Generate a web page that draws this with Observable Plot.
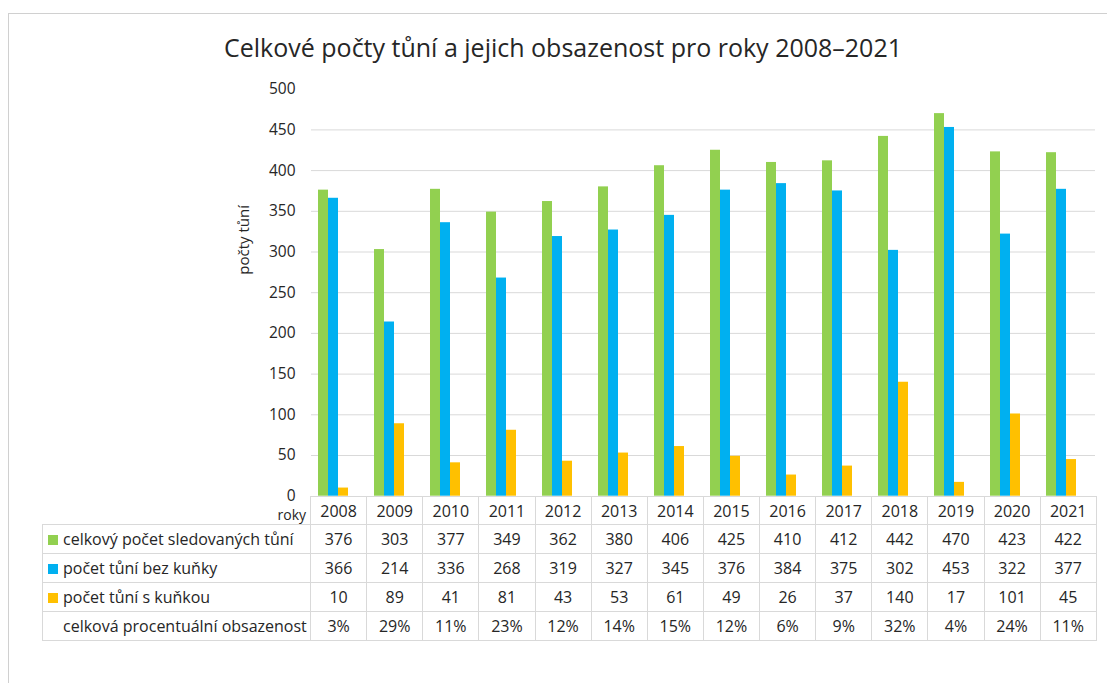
<!DOCTYPE html>
<html><head><meta charset="utf-8">
<script src="https://cdn.jsdelivr.net/npm/d3@7"></script>
<script src="https://cdn.jsdelivr.net/npm/@observablehq/plot@0.6"></script>
<style>
body{margin:0;background:#fff;font-family:"Open Sans",sans-serif;color:#262626}
#wrap{position:relative;width:1107px;height:683px;overflow:hidden;background:#fff}
#frame{position:absolute;left:8px;top:13px;width:1200px;height:800px;border-left:1px solid #d0d0d0;border-top:1px solid #d0d0d0}
#title{position:absolute;top:30px;left:563px;transform:translateX(-50%);white-space:nowrap;font-size:25px;line-height:34px}
#chart{position:absolute;left:0;top:0}
#tbl{position:absolute;left:42px;top:496px;border-collapse:collapse;table-layout:fixed;font-size:16px}
#tbl td{border:1px solid #d9d9d9;padding:0;text-align:center;height:28px;line-height:20px}
#tbl td.lab{text-align:left;padding-left:5px;white-space:nowrap}
#tbl td.lab.np{padding-left:20px}
#tbl td.roky{border:none;text-align:right;vertical-align:bottom;font-size:14px;padding-right:4px;line-height:18px}
#tbl tr.head td{height:27px}
.sw{display:inline-block;width:10px;height:10px;margin-right:5px;vertical-align:0px}
</style>
</head><body>
<div id="wrap">
<div id="frame"></div>
<div id="title">Celkové počty tůní a jejich obsazenost pro roky 2008–2021</div>
<div id="chart"></div>
<table id="tbl"></table>
</div>
<script>
const years = [2008,2009,2010,2011,2012,2013,2014,2015,2016,2017,2018,2019,2020,2021];
const seriesNames = ["celkový počet sledovaných tůní","počet tůní bez kuňky","počet tůní s kuňkou"];
const totalPonds = [376,303,377,349,362,380,406,425,410,412,442,470,423,422];
const pondsWithout = [366,214,336,268,319,327,345,376,384,375,302,453,322,377];
const pondsWith = [10,89,41,81,43,53,61,49,26,37,140,17,101,45];
const pctLabel = "celková procentuální obsazenost";
const pctValues = ["3%","29%","11%","23%","12%","14%","15%","12%","6%","9%","32%","4%","24%","11%"];
const colors = ["#92d050","#00b0f0","#ffc000"];
const yTicks = [0,50,100,150,200,250,300,350,400,450,500];
const yLabel = "počty tůní";
const xLabel = "roky";

const seriesValues = [totalPonds, pondsWithout, pondsWith];
const data = years.flatMap((yr, i) => seriesNames.map((s, k) => ({year: yr, series: s, value: seriesValues[k][i]})));

const chart = Plot.plot({
  width: 1107,
  height: 530,
  marginTop: 88.7,
  marginBottom: 34.3,
  marginLeft: 310,
  marginRight: 11,
  style: {fontFamily: "Open Sans", fontSize: "15px", color: "#262626", background: "transparent"},
  fx: {domain: years, padding: 0, axis: null, label: null},
  x: {domain: seriesNames, paddingInner: 0, paddingOuter: 1.075, align: 0.256, axis: null},
  y: {domain: [0, 500], label: null},
  color: {domain: seriesNames, range: colors},
  marks: [
    Plot.gridY(yTicks.filter(t => t > 0 && t < 500), {stroke: "#d9d9d9", strokeOpacity: 1, strokeWidth: 1}),
    Plot.barY(data, {fx: "year", x: "series", y: "value", fill: "series"}),
    Plot.axisY({ticks: yTicks, tickSize: 0, tickPadding: 16, fontSize: 15.5, label: null}),
    Plot.text([yLabel], {facet: "super", frameAnchor: "left", rotate: -90, dx: -67, dy: -18, fontSize: 15, fill: "#262626"})
  ]
});
document.getElementById("chart").appendChild(chart);

// data table
const tbl = document.getElementById("tbl");
const colg = document.createElement("colgroup");
const c0 = document.createElement("col"); c0.style.width = "268px"; colg.appendChild(c0);
years.forEach(() => { const c = document.createElement("col"); c.style.width = "56.14px"; colg.appendChild(c); });
tbl.appendChild(colg);
const head = document.createElement("tr"); head.className = "head";
const hc = document.createElement("td"); hc.className = "roky"; hc.textContent = xLabel; head.appendChild(hc);
years.forEach(y => { const td = document.createElement("td"); td.textContent = y; head.appendChild(td); });
tbl.appendChild(head);
seriesNames.forEach((s, k) => {
  const tr = document.createElement("tr");
  const lab = document.createElement("td"); lab.className = "lab";
  const sw = document.createElement("span"); sw.className = "sw"; sw.style.background = colors[k];
  lab.appendChild(sw); lab.appendChild(document.createTextNode(s)); tr.appendChild(lab);
  seriesValues[k].forEach(v => { const td = document.createElement("td"); td.textContent = v; tr.appendChild(td); });
  tbl.appendChild(tr);
});
const pr = document.createElement("tr");
const pl = document.createElement("td"); pl.className = "lab np"; pl.textContent = pctLabel; pr.appendChild(pl);
pctValues.forEach(v => { const td = document.createElement("td"); td.textContent = v; pr.appendChild(td); });
tbl.appendChild(pr);
</script>
</body></html>
